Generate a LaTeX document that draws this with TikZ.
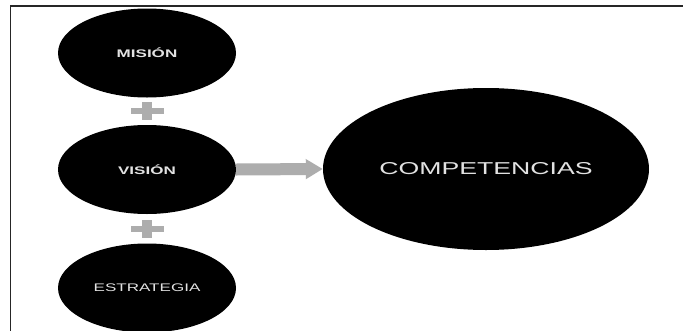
\documentclass[tikz,border=0pt]{standalone}
\usepackage{fontspec}
\setmainfont{Liberation Sans}
\usetikzlibrary{shapes.geometric,arrows.meta,calc}
\definecolor{connector}{HTML}{ADADAD}
\definecolor{labeltext}{HTML}{E2E2E2}
\newcommand{\widetext}[1]{\scalebox{1.55}[1]{#1}}
\begin{document}
\begin{tikzpicture}[x=1pt,y=-1pt,
  bubble/.style={ellipse, fill=black, draw=none, inner sep=0pt,
    text=labeltext, minimum width=178pt, minimum height=89pt},
  bigbubble/.style={bubble, minimum width=326pt, minimum height=162pt},
  joiner/.style={connector}]
\useasboundingbox (0,0) rectangle (683,330);
\clip (0,0) rectangle (683,330);
\fill[white] (0,0) rectangle (683,330);
% outer frame (only the top and left edges fall inside the page)
\draw[line width=1.6pt, black!85] (10.5,331) -- (10.5,6) -- (684,6);

% the three building blocks
\node[bubble] (mision) at (147,53)
  {\fontsize{11}{13}\selectfont\bfseries\widetext{MISIÓN}};
\node[bubble] (vision) at (147,169.5)
  {\fontsize{11}{13}\selectfont\bfseries\widetext{VISIÓN}};
\node[bubble] (estrategia) at (147,288)
  {\fontsize{11}{13}\selectfont\widetext{ESTRATEGIA}};

% the result
\node[bigbubble] (competencias) at (486,169)
  {\raisebox{2pt}{\fontsize{17.2}{20}\selectfont\widetext{COMPETENCIAS}}};

% plus signs between the stacked blocks
\foreach \a/\b in {mision/vision, vision/estrategia} {
  \coordinate (p) at ($(\a.south)!0.5!(\b.north)$);
  \fill[joiner] ($(p)+(-16.5,-3)$) rectangle ($(p)+(16.5,3)$);
  \fill[joiner] ($(p)+(-5,-9)$) rectangle ($(p)+(5,9)$);
}

% arrow towards the result
\draw[connector, line width=12pt,
  -{Triangle[length=17pt, width=19pt]}]
  (vision.east) -- (competencias.west);
\end{tikzpicture}
\end{document}
